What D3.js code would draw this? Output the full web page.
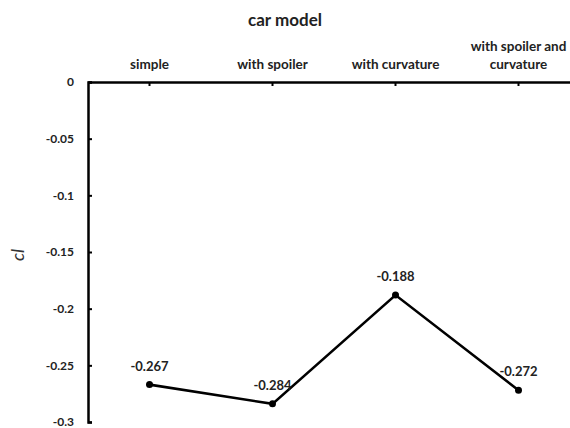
<!DOCTYPE html>
<html>
<head>
<meta charset="utf-8">
<script src="https://cdn.jsdelivr.net/npm/d3@7"></script>
<style>
  body { margin: 0; background: #fff; }
  text { font-family: Lato, "Open Sans", sans-serif; }
</style>
</head>
<body>
<svg width="570" height="428"></svg>
<script>
const models = ["simple", "with spoiler", "with curvature", "with spoiler and curvature"];
const modelLines = [["simple"], ["with spoiler"], ["with curvature"], ["with spoiler and", "curvature"]];
const clValues = [-0.267, -0.284, -0.188, -0.272];
const yTicks = [0, -0.05, -0.1, -0.15, -0.2, -0.25, -0.3];

const svg = d3.select("svg");
const plotLeft = 88;
const plotTop = 82;
const plotBottom = 422;

const x = d3.scaleBand().domain(models).range([plotLeft, 580]);
const y = d3.scaleLinear().domain([0, -0.3]).range([plotTop, plotBottom]);
const cx = d => x(d) + x.bandwidth() / 2;

// title
svg.append("text")
  .attr("x", 285).attr("y", 26)
  .attr("text-anchor", "middle")
  .attr("font-size", 17).attr("font-weight", "bold")
  .attr("fill", "#222")
  .text("car model");

// y axis label
svg.append("text")
  .attr("transform", "translate(24, 255) rotate(-90)")
  .attr("text-anchor", "middle")
  .attr("font-size", 18).attr("font-style", "italic")
  .attr("fill", "#333")
  .text("cl");

// y axis (ticks pointing inward)
const yAxis = svg.append("g")
  .attr("transform", `translate(${plotLeft},0)`)
  .call(d3.axisRight(y).tickValues(yTicks).tickSize(4).tickFormat(d => String(d)));
yAxis.select(".domain").attr("stroke", "#000").attr("stroke-width", 2.5);
yAxis.selectAll(".tick line").attr("stroke", "#000").attr("stroke-width", 2);
yAxis.selectAll(".tick text")
  .attr("x", -14).attr("text-anchor", "end")
  .attr("font-size", 12).attr("font-weight", "bold").attr("fill", "#222");

// top category axis
const xAxis = svg.append("g")
  .attr("transform", `translate(0,${plotTop})`)
  .call(d3.axisBottom(x).tickSize(4).tickSizeOuter(0).tickFormat(""));
xAxis.select(".domain").attr("stroke", "#000").attr("stroke-width", 2.5);
xAxis.selectAll(".tick line").attr("stroke", "#000").attr("stroke-width", 2);

// category labels above the axis
models.forEach((m, i) => {
  const lines = modelLines[i];
  const t = svg.append("text")
    .attr("text-anchor", "middle")
    .attr("font-size", 13.5).attr("font-weight", "bold").attr("fill", "#222");
  lines.forEach((l, j) => {
    t.append("tspan")
      .attr("x", cx(m))
      .attr("y", 69 - (lines.length - 1 - j) * 18)
      .text(l);
  });
});

// series line
svg.append("path")
  .datum(clValues)
  .attr("fill", "none")
  .attr("stroke", "#000")
  .attr("stroke-width", 2.6)
  .attr("d", d3.line().x((d, i) => cx(models[i])).y(d => y(d)));

svg.selectAll("circle.pt")
  .data(clValues)
  .join("circle")
  .attr("class", "pt")
  .attr("cx", (d, i) => cx(models[i]))
  .attr("cy", d => y(d))
  .attr("r", 3.5)
  .attr("fill", "#000");

// data labels
svg.selectAll("text.lbl")
  .data(clValues)
  .join("text")
  .attr("class", "lbl")
  .attr("x", (d, i) => cx(models[i]))
  .attr("y", d => y(d) - 14)
  .attr("text-anchor", "middle")
  .attr("font-size", 13).attr("font-weight", "bold").attr("fill", "#222")
  .text(d => d.toFixed(3));
</script>
</body>
</html>
